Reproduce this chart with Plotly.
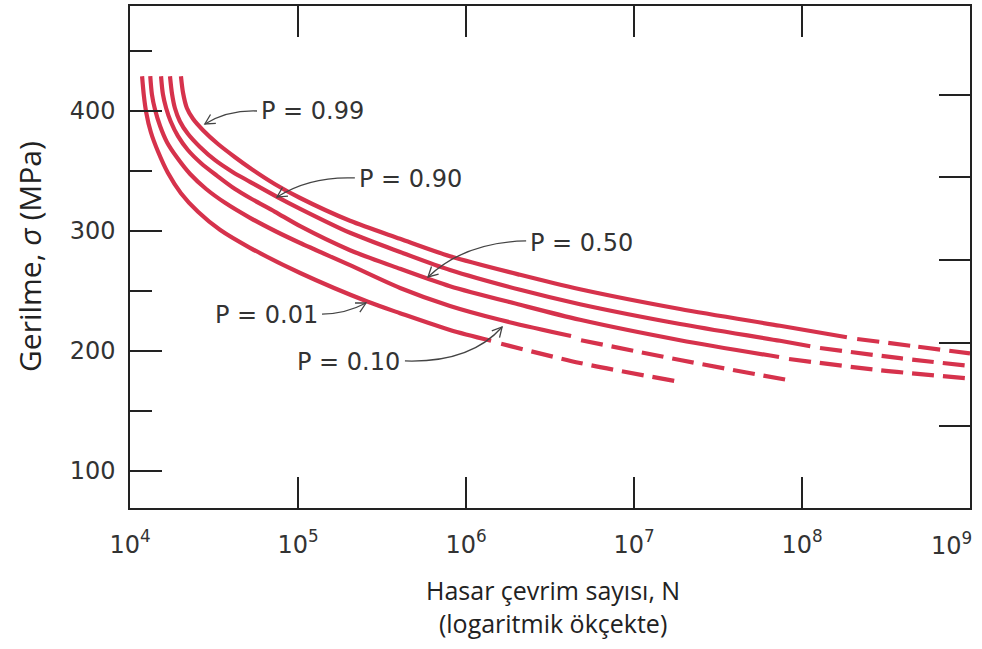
import numpy as np
import plotly.graph_objects as go

# ---------------- data ----------------
# cycles to failure N and stress (MPa); each curve: solid part + dashed extrapolation
p99_solid_N = [2.01e4, 2.07e4, 2.18e4, 2.37e4, 2.72e4, 3.34e4, 4.22e4, 5.18e4, 7.30e4, 1.03e5, 2.04e5, 4.05e5, 8.03e5, 2.10e6, 4.77e6, 1.88e7, 7.40e7, 1.85e8]
p99_solid_S = [429, 415, 402.5, 393.5, 384, 372.5, 361.5, 352.5, 339, 327.5, 308.5, 293.5, 279, 263.5, 251.5, 235, 221, 211.5]
p99_dash_N = [2.13e8, 4.64e8, 1e9]
p99_dash_S = [210, 204, 198]

p90_solid_N = [1.73e4, 1.78e4, 1.85e4, 1.98e4, 2.21e4, 2.61e4, 3.21e4, 4.10e4, 5.18e4, 7.50e4, 1.03e5, 2.04e5, 4.05e5, 8.03e5, 2.10e6, 4.77e6, 1.88e7, 7.40e7, 1.12e8]
p90_solid_S = [429, 414, 402.5, 391.5, 381, 370, 359, 349, 341, 328.5, 318.5, 298.5, 282.5, 267.5, 251, 239, 222.5, 208.5, 204]
p90_dash_N = [1.28e8, 3.83e8, 1e9]
p90_dash_S = [202.5, 194, 187.5]

p50_solid_N = [1.53e4, 1.57e4, 1.64e4, 1.75e4, 1.93e4, 2.21e4, 2.65e4, 3.30e4, 4.22e4, 5.18e4, 7.30e4, 1.03e5, 2.04e5, 4.05e5, 8.03e5, 2.10e6, 4.77e6, 1.88e7, 7.30e7]
p50_solid_S = [429, 414, 402.5, 391, 379, 367.5, 356.5, 346, 335, 327.5, 316, 304, 284, 268.5, 254, 238.5, 226, 209, 195]
p50_dash_N = [8.37e7, 2.91e8, 1e9]
p50_dash_S = [193.3, 184, 177]

p10_solid_N = [1.32e4, 1.35e4, 1.41e4, 1.51e4, 1.66e4, 1.91e4, 2.28e4, 2.84e4, 3.68e4, 5.18e4, 7.30e4, 1.03e5, 2.04e5, 4.05e5, 8.03e5, 1.59e6, 4.22e6]
p10_solid_S = [429, 414, 401, 387.5, 374, 361, 347.5, 335, 323.5, 311, 300, 290, 271.5, 252.5, 237.5, 226, 212.5]
p10_dash_N = [4.84e6, 1.88e7, 8.84e7]
p10_dash_S = [209, 192.5, 175]

p01_solid_N = [1.18e4, 1.21e4, 1.25e4, 1.33e4, 1.47e4, 1.68e4, 2.01e4, 2.54e4, 3.43e4, 5.18e4, 1.03e5, 2.61e5, 4.05e5, 8.03e5, 1.41e6]
p01_solid_S = [429, 412.5, 398.5, 382.5, 366, 348.5, 331.5, 316, 301, 286, 265, 241, 231.5, 217.5, 208.5]
p01_dash_N = [1.62e6, 4.77e6, 1.75e7]
p01_dash_S = [206, 190, 175]

x_tick_vals = [1e4, 1e5, 1e6, 1e7, 1e8, 1e9]
x_tick_text = ["10<sup>4</sup>", "10<sup>5</sup>", "10<sup>6</sup>", "10<sup>7</sup>", "10<sup>8</sup>", ""]
x_last_label = "10<sup>9</sup>"   # drawn flush with the right frame, as in the original
y_tick_vals = [100, 200, 300, 400]
ksi_tick_vals = [20, 30, 40, 50, 60]
MPA_PER_KSI = 6.894757

# labels: text, text anchor point, arrow tail, arrow control, arrow tip (N, MPa)
labels = [
    dict(text="P = 0.99", side="left", at=(5.86e4, 400), tail=(5.70e4, 400), ctrl=(3.83e4, 400.8), tip=(2.79e4, 389.2)),
    dict(text="P = 0.90", side="left", at=(2.24e5, 343.3), tail=(2.18e5, 344.2), ctrl=(1.18e5, 345.8), tip=(7.50e4, 328.3)),
    dict(text="P = 0.50", side="left", at=(2.34e6, 290), tail=(2.28e6, 291.7), ctrl=(9.86e5, 290.8), tip=(5.94e5, 261.7)),
    dict(text="P = 0.01", side="right", at=(1.35e5, 230), tail=(1.39e5, 230.8), ctrl=(1.91e5, 230.8), tip=(2.54e5, 240)),
    dict(text="P = 0.10", side="right", at=(4.16e5, 190.8), tail=(4.33e5, 191.7), ctrl=(1.06e6, 190), tip=(1.64e6, 220)),
]

# ---------------- layout geometry ----------------
W, H = 982, 649
ML, MR, MT, MB = 130, 12, 6, 141
PW, PH = W - ML - MR, H - MT - MB
X_RANGE = [4, 9]
Y_RANGE = [69.17, 487.5]

RED = "rgb(214,50,76)"
LW = 4.2
DASH = "22px,9px"
INK = "#333333"
TICKFONT = dict(family="DejaVu Sans", size=24, color=INK)


def to_px(n, s):
    px = (np.log10(n) - X_RANGE[0]) / (X_RANGE[1] - X_RANGE[0]) * PW
    py = (s - Y_RANGE[0]) / (Y_RANGE[1] - Y_RANGE[0]) * PH
    return px, py


def px_to_paper(px, py):
    return px / PW, py / PH


fig = go.Figure()

curves = [
    (p99_solid_N, p99_solid_S, p99_dash_N, p99_dash_S),
    (p90_solid_N, p90_solid_S, p90_dash_N, p90_dash_S),
    (p50_solid_N, p50_solid_S, p50_dash_N, p50_dash_S),
    (p10_solid_N, p10_solid_S, p10_dash_N, p10_dash_S),
    (p01_solid_N, p01_solid_S, p01_dash_N, p01_dash_S),
]
for sN, sS, dN, dS in curves:
    fig.add_trace(go.Scatter(x=sN, y=sS, mode="lines",
                             line=dict(color=RED, width=LW, shape="spline", smoothing=0.8),
                             showlegend=False, hoverinfo="skip"))
    fig.add_trace(go.Scatter(x=dN, y=dS, mode="lines",
                             line=dict(color=RED, width=LW, dash=DASH, shape="spline", smoothing=0.8),
                             showlegend=False, hoverinfo="skip"))

# empty trace to attach the right-hand (ksi) tick axis
fig.add_trace(go.Scatter(x=[], y=[], yaxis="y2", showlegend=False, hoverinfo="skip"))

shapes = []
annotations = []
for lab in labels:
    tx, ty = px_to_paper(*to_px(*lab["at"]))
    annotations.append(dict(x=tx, y=ty, xref="paper", yref="paper", text=lab["text"],
                            showarrow=False, xanchor=lab["side"], yanchor="middle", font=TICKFONT))
    t0 = to_px(*lab["tail"])
    c0 = to_px(*lab["ctrl"])
    p0 = to_px(*lab["tip"])
    a = px_to_paper(*t0)
    c = px_to_paper(*c0)
    b = px_to_paper(*p0)
    shapes.append(dict(type="path", xref="paper", yref="paper",
                       path=f"M {a[0]:.5f},{a[1]:.5f} Q {c[0]:.5f},{c[1]:.5f} {b[0]:.5f},{b[1]:.5f}",
                       line=dict(color="#444444", width=1.3)))
    # open arrowhead
    dx, dy = p0[0] - c0[0], p0[1] - c0[1]
    L = np.hypot(dx, dy)
    ux, uy = dx / L, dy / L
    pts = []
    for ang in (np.radians(28), -np.radians(28)):
        rx = -(ux * np.cos(ang) - uy * np.sin(ang)) * 11
        ry = -(ux * np.sin(ang) + uy * np.cos(ang)) * 11
        pts.append(px_to_paper(p0[0] + rx, p0[1] + ry))
    shapes.append(dict(type="path", xref="paper", yref="paper",
                       path=f"M {pts[0][0]:.5f},{pts[0][1]:.5f} L {b[0]:.5f},{b[1]:.5f} L {pts[1][0]:.5f},{pts[1][1]:.5f}",
                       line=dict(color="#444444", width=1.3)))

# last x tick label, kept inside the figure like the original
annotations.append(dict(x=(974 - ML) / PW, y=-(544 - (MT + PH)) / PH, xref="paper", yref="paper",
                        text=x_last_label, showarrow=False, xanchor="right", yanchor="middle",
                        font=TICKFONT))

# axis titles
annotations.append(dict(x=-(ML - 29) / PW, y=0.5, xref="paper", yref="paper",
                        text="Gerilme, <i>σ</i> (MPa)", textangle=-90, showarrow=False,
                        xanchor="center", yanchor="middle",
                        font=dict(family="Open Sans", size=30, color="#222222")))
annotations.append(dict(x=(553 - ML) / PW, y=-(606 - (MT + PH)) / PH, xref="paper", yref="paper",
                        text="Hasar çevrim sayısı, N<br>(logaritmik ökçekte)", showarrow=False,
                        xanchor="center", yanchor="middle", align="center",
                        font=dict(family="Open Sans", size=25, color="#222222")))

fig.update_layout(
    width=W, height=H,
    margin=dict(l=ML, r=MR, t=MT, b=MB, pad=0, autoexpand=False),
    paper_bgcolor="white", plot_bgcolor="white",
    showlegend=False,
    shapes=shapes,
    annotations=annotations,
    xaxis=dict(type="log", range=X_RANGE, tickvals=x_tick_vals, ticktext=x_tick_text,
               ticks="inside", ticklen=31, tickwidth=1.5, tickcolor="#222222",
               showline=True, linecolor="#222222", linewidth=1.5, mirror="ticks",
               showgrid=False, zeroline=False, tickfont=TICKFONT, ticklabelstandoff=14,
               automargin=False),
    yaxis=dict(range=Y_RANGE, tickvals=y_tick_vals,
               ticks="inside", ticklen=32, tickwidth=1.5, tickcolor="#222222",
               minor=dict(ticks="inside", ticklen=22, tickwidth=1.5, tickcolor="#222222", dtick=50, tick0=0),
               showline=True, linecolor="#222222", linewidth=1.5, mirror=True,
               showgrid=False, zeroline=False, tickfont=TICKFONT, ticklabelstandoff=8,
               automargin=False),
    yaxis2=dict(overlaying="y", side="right",
                range=[Y_RANGE[0] / MPA_PER_KSI, Y_RANGE[1] / MPA_PER_KSI],
                tickvals=ksi_tick_vals, ticks="inside", ticklen=31, tickwidth=1.5, tickcolor="#222222",
                showticklabels=False, showgrid=False, zeroline=False, showline=False,
                automargin=False),
)

fig.write_html("out.html")
